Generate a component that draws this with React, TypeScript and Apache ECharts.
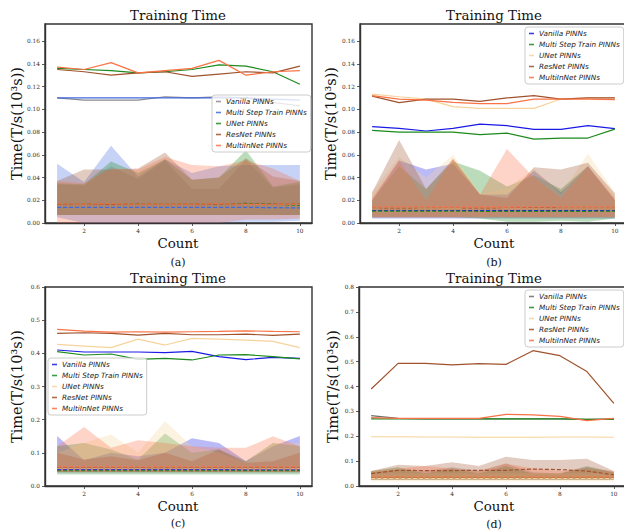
import React, { useEffect, useRef } from 'react';
import * as echarts from 'echarts';

const COUNTS = [1, 2, 3, 4, 5, 6, 7, 8, 9, 10];
const MODELS = ['Vanilla PINNs', 'Multi Step Train PINNs', 'UNet PINNs', 'ResNet PINNs', 'MultiInNet PINNs'];
const X_TICKS = [2, 4, 6, 8, 10];
const Y_TICKS_AB = [0, 0.02, 0.04, 0.06, 0.08, 0.1, 0.12, 0.14, 0.16];
const Y_TICKS_C = [0, 0.1, 0.2, 0.3, 0.4, 0.5, 0.6];
const Y_TICKS_D = [0, 0.1, 0.2, 0.3, 0.4, 0.5, 0.6, 0.7, 0.8];
const TITLE = 'Training Time';
const X_NAME = 'Count';
const Y_NAME = 'Time(T/s(10³s))';
const PANEL_LABELS = ['(a)', '(b)', '(c)', '(d)'];

// ---------- Panel (a) ----------
const A_VAN_MAX = [0.110, 0.108, 0.108, 0.108, 0.111, 0.110, 0.111, 0.110, 0.106, 0.103];
const A_MST_MAX = [0.110, 0.110, 0.110, 0.110, 0.110, 0.110, 0.110, 0.110, 0.109, 0.108];
const A_UNET_MAX = [0.136, 0.135, 0.134, 0.132, 0.133, 0.135, 0.139, 0.138, 0.133, 0.122];
const A_RES_MAX = [0.135, 0.133, 0.130, 0.132, 0.133, 0.129, 0.131, 0.133, 0.132, 0.138];
const A_MIN_MAX = [0.137, 0.135, 0.141, 0.132, 0.134, 0.136, 0.143, 0.130, 0.133, 0.134];
const A_VAN_MEAN = [0.0135, 0.0135, 0.0135, 0.0135, 0.0135, 0.0135, 0.0135, 0.0135, 0.0133, 0.0132];
const A_MST_MEAN = [0.0138, 0.0138, 0.0138, 0.0138, 0.0138, 0.0138, 0.0138, 0.0138, 0.0135, 0.0133];
const A_UNET_MEAN = [0.0165, 0.0165, 0.0168, 0.0166, 0.0165, 0.0166, 0.0170, 0.0172, 0.0168, 0.0155];
const A_RES_MEAN = [0.0165, 0.0165, 0.0163, 0.0165, 0.0165, 0.0163, 0.0165, 0.0166, 0.0165, 0.0170];
const A_MIN_MEAN = [0.0168, 0.0166, 0.0170, 0.0165, 0.0166, 0.0166, 0.0170, 0.0164, 0.0165, 0.0166];
const A_VAN_LO = [0.007, 0.007, 0.007, 0.007, 0.007, 0.007, 0.007, 0.007, 0.007, 0.007];
const A_VAN_HI = [0.034, 0.033, 0.050, 0.039, 0.055, 0.030, 0.030, 0.056, 0.031, 0.034];
const A_MST_LO = [0.005, 0.000, 0.000, 0.000, 0.000, 0.000, 0.000, 0.001, 0.001, 0.002];
const A_MST_HI = [0.052, 0.036, 0.068, 0.041, 0.056, 0.044, 0.050, 0.051, 0.051, 0.051];
const A_UNET_LO = [0.007, 0.007, 0.007, 0.007, 0.007, 0.007, 0.007, 0.007, 0.007, 0.007];
const A_UNET_HI = [0.035, 0.034, 0.054, 0.044, 0.056, 0.038, 0.040, 0.064, 0.032, 0.036];
const A_RES_LO = [0.007, 0.007, 0.007, 0.007, 0.007, 0.007, 0.007, 0.007, 0.007, 0.007];
const A_RES_HI = [0.037, 0.047, 0.047, 0.048, 0.062, 0.038, 0.040, 0.057, 0.041, 0.037];
const A_MIN_LO = [0.000, 0.000, 0.000, 0.000, 0.000, 0.000, 0.000, 0.003, 0.003, 0.004];
const A_MIN_HI = [0.037, 0.035, 0.048, 0.047, 0.058, 0.051, 0.050, 0.055, 0.048, 0.037];

// ---------- Panel (b) ----------
const B_VAN_MAX = [0.0847, 0.0832, 0.0809, 0.0832, 0.0870, 0.0856, 0.0823, 0.0823, 0.0856, 0.0830];
const B_MST_MAX = [0.0815, 0.0800, 0.0800, 0.0800, 0.0777, 0.0790, 0.0738, 0.0747, 0.0747, 0.0826];
const B_UNET_MAX = [0.1134, 0.1110, 0.1090, 0.1023, 0.1008, 0.1008, 0.1008, 0.1090, 0.1100, 0.1100];
const B_RES_MAX = [0.1116, 0.1058, 0.1090, 0.1090, 0.1070, 0.1100, 0.1120, 0.1090, 0.1100, 0.1100];
const B_MIN_MAX = [0.1120, 0.1090, 0.1080, 0.1060, 0.1050, 0.1050, 0.1090, 0.1090, 0.1090, 0.1085];
const B_VAN_MEAN = [0.0110, 0.0110, 0.0110, 0.0110, 0.0110, 0.0110, 0.0109, 0.0109, 0.0109, 0.0108];
const B_MST_MEAN = [0.0104, 0.0104, 0.0104, 0.0104, 0.0103, 0.0103, 0.0103, 0.0103, 0.0103, 0.0104];
const B_UNET_MEAN = [0.0130, 0.0130, 0.0130, 0.0129, 0.0129, 0.0129, 0.0129, 0.0130, 0.0130, 0.0130];
const B_RES_MEAN = [0.0132, 0.0131, 0.0132, 0.0132, 0.0131, 0.0132, 0.0133, 0.0132, 0.0132, 0.0132];
const B_MIN_MEAN = [0.0143, 0.0143, 0.0143, 0.0142, 0.0142, 0.0142, 0.0143, 0.0143, 0.0143, 0.0143];
const B_VAN_LO = [0.004, 0.004, 0.004, 0.004, 0.004, 0.004, 0.004, 0.004, 0.004, 0.004];
const B_VAN_HI = [0.020, 0.055, 0.047, 0.052, 0.025, 0.025, 0.046, 0.027, 0.050, 0.020];
const B_MST_LO = [0.005, 0.005, 0.005, 0.005, 0.004, 0.001, 0.001, 0.002, 0.001, 0.004];
const B_MST_HI = [0.020, 0.050, 0.030, 0.054, 0.046, 0.032, 0.042, 0.030, 0.050, 0.020];
const B_UNET_LO = [0.005, 0.005, 0.005, 0.005, 0.005, 0.005, 0.005, 0.005, 0.005, 0.005];
const B_UNET_HI = [0.027, 0.058, 0.040, 0.060, 0.026, 0.030, 0.048, 0.025, 0.061, 0.027];
const B_RES_LO = [0.005, 0.005, 0.005, 0.005, 0.005, 0.005, 0.005, 0.005, 0.005, 0.005];
const B_RES_HI = [0.027, 0.073, 0.030, 0.056, 0.025, 0.022, 0.049, 0.047, 0.053, 0.026];
const B_MIN_LO = [0.005, 0.005, 0.005, 0.005, 0.005, 0.005, 0.005, 0.005, 0.005, 0.005];
const B_MIN_HI = [0.022, 0.055, 0.020, 0.057, 0.025, 0.065, 0.040, 0.022, 0.050, 0.022];

// ---------- Panel (c) ----------
const C_VAN_MAX = [0.410, 0.404, 0.404, 0.404, 0.402, 0.406, 0.390, 0.381, 0.388, 0.385];
const C_MST_MAX = [0.405, 0.395, 0.398, 0.382, 0.385, 0.380, 0.395, 0.396, 0.390, 0.383];
const C_UNET_MAX = [0.427, 0.422, 0.417, 0.443, 0.425, 0.445, 0.443, 0.440, 0.436, 0.417];
const C_RES_MAX = [0.460, 0.462, 0.460, 0.455, 0.460, 0.456, 0.456, 0.458, 0.454, 0.458];
const C_MIN_MAX = [0.472, 0.467, 0.464, 0.465, 0.464, 0.465, 0.466, 0.468, 0.466, 0.465];
const C_VAN_MEAN = [0.049, 0.049, 0.049, 0.049, 0.049, 0.049, 0.049, 0.048, 0.048, 0.048];
const C_MST_MEAN = [0.046, 0.046, 0.046, 0.046, 0.046, 0.046, 0.046, 0.046, 0.046, 0.046];
const C_UNET_MEAN = [0.054, 0.054, 0.054, 0.054, 0.055, 0.054, 0.054, 0.054, 0.054, 0.054];
const C_RES_MEAN = [0.055, 0.055, 0.055, 0.055, 0.055, 0.055, 0.055, 0.055, 0.055, 0.055];
const C_MIN_MEAN = [0.058, 0.058, 0.058, 0.058, 0.058, 0.058, 0.058, 0.058, 0.058, 0.058];
const C_VAN_LO = [0.040, 0.040, 0.040, 0.040, 0.040, 0.040, 0.040, 0.040, 0.040, 0.040];
const C_VAN_HI = [0.151, 0.078, 0.100, 0.090, 0.100, 0.144, 0.130, 0.075, 0.120, 0.151];
const C_MST_LO = [0.035, 0.035, 0.035, 0.035, 0.035, 0.035, 0.035, 0.035, 0.035, 0.035];
const C_MST_HI = [0.120, 0.130, 0.110, 0.080, 0.158, 0.100, 0.110, 0.075, 0.130, 0.120];
const C_UNET_LO = [0.040, 0.040, 0.040, 0.040, 0.040, 0.040, 0.040, 0.040, 0.040, 0.040];
const C_UNET_HI = [0.100, 0.130, 0.155, 0.100, 0.195, 0.120, 0.100, 0.070, 0.130, 0.130];
const C_RES_LO = [0.042, 0.042, 0.042, 0.042, 0.042, 0.042, 0.042, 0.042, 0.042, 0.042];
const C_RES_HI = [0.100, 0.080, 0.090, 0.078, 0.100, 0.075, 0.110, 0.070, 0.075, 0.100];
const C_MIN_LO = [0.042, 0.042, 0.042, 0.042, 0.042, 0.042, 0.042, 0.042, 0.042, 0.042];
const C_MIN_HI = [0.120, 0.178, 0.115, 0.138, 0.130, 0.120, 0.115, 0.115, 0.150, 0.120];

// ---------- Panel (d) ----------
const D_VAN_MAX = [0.283, 0.272, 0.270, 0.270, 0.270, 0.270, 0.270, 0.270, 0.268, 0.270];
const D_MST_MAX = [0.270, 0.270, 0.270, 0.270, 0.270, 0.270, 0.270, 0.270, 0.268, 0.268];
const D_UNET_MAX = [0.198, 0.198, 0.197, 0.197, 0.196, 0.196, 0.196, 0.197, 0.197, 0.196];
const D_RES_MAX = [0.390, 0.493, 0.493, 0.487, 0.492, 0.489, 0.544, 0.524, 0.460, 0.332];
const D_MIN_MAX = [0.275, 0.272, 0.272, 0.272, 0.272, 0.288, 0.286, 0.280, 0.263, 0.272];
const D_VAN_MEAN = [0.030, 0.030, 0.030, 0.030, 0.030, 0.030, 0.030, 0.030, 0.030, 0.030];
const D_MST_MEAN = [0.033, 0.033, 0.033, 0.033, 0.033, 0.033, 0.033, 0.033, 0.033, 0.033];
const D_UNET_MEAN = [0.030, 0.030, 0.030, 0.030, 0.030, 0.030, 0.030, 0.030, 0.030, 0.030];
const D_RES_MEAN = [0.050, 0.063, 0.062, 0.062, 0.063, 0.063, 0.068, 0.066, 0.060, 0.045];
const D_MIN_MEAN = [0.036, 0.036, 0.036, 0.036, 0.036, 0.036, 0.036, 0.036, 0.036, 0.036];
const D_VAN_LO = [0.025, 0.025, 0.025, 0.025, 0.025, 0.025, 0.025, 0.025, 0.025, 0.025];
const D_VAN_HI = [0.055, 0.065, 0.060, 0.075, 0.060, 0.090, 0.055, 0.050, 0.080, 0.055];
const D_MST_LO = [0.025, 0.025, 0.025, 0.025, 0.025, 0.025, 0.025, 0.025, 0.025, 0.025];
const D_MST_HI = [0.060, 0.075, 0.050, 0.070, 0.050, 0.080, 0.050, 0.050, 0.075, 0.055];
const D_UNET_LO = [0.018, 0.018, 0.018, 0.018, 0.018, 0.018, 0.018, 0.018, 0.018, 0.018];
const D_UNET_HI = [0.050, 0.050, 0.050, 0.050, 0.050, 0.050, 0.050, 0.050, 0.050, 0.050];
const D_RES_LO = [0.030, 0.030, 0.030, 0.030, 0.030, 0.030, 0.030, 0.030, 0.030, 0.030];
const D_RES_HI = [0.060, 0.085, 0.080, 0.095, 0.080, 0.118, 0.105, 0.105, 0.110, 0.060];
const D_MIN_LO = [0.025, 0.025, 0.025, 0.025, 0.025, 0.025, 0.025, 0.025, 0.025, 0.025];
const D_MIN_HI = [0.060, 0.070, 0.080, 0.070, 0.060, 0.090, 0.070, 0.060, 0.070, 0.060];

const GRAY = '#8a8a8a';
const ROYAL = '#4169e1';
const BLUE = '#1a1ae6';
const GREEN = '#1d8a1d';
const WHEAT = '#f6d39c';
const SIENNA = '#a0522d';
const CORAL = '#fa7245';

const PANELS = [
  {
    grid: { left: 45, top: 24, width: 267, height: 199 },
    yMax: 0.175, yTicks: Y_TICKS_AB, dec: 2,
    colors: [GRAY, ROYAL, GREEN, SIENNA, CORAL],
    max: [A_VAN_MAX, A_MST_MAX, A_UNET_MAX, A_RES_MAX, A_MIN_MAX],
    mean: [A_VAN_MEAN, A_MST_MEAN, A_UNET_MEAN, A_RES_MEAN, A_MIN_MEAN],
    lo: [A_VAN_LO, A_MST_LO, A_UNET_LO, A_RES_LO, A_MIN_LO],
    hi: [A_VAN_HI, A_MST_HI, A_UNET_HI, A_RES_HI, A_MIN_HI],
    legend: { left: 212, top: 95 },
    titleY: 15, cx: 178, countY: 243, labelY: 262, yNameX: 17,
  },
  {
    grid: { left: 360, top: 24, width: 267, height: 199 },
    yMax: 0.175, yTicks: Y_TICKS_AB, dec: 2,
    colors: [BLUE, GREEN, WHEAT, SIENNA, CORAL],
    max: [B_VAN_MAX, B_MST_MAX, B_UNET_MAX, B_RES_MAX, B_MIN_MAX],
    mean: [B_VAN_MEAN, B_MST_MEAN, B_UNET_MEAN, B_RES_MEAN, B_MIN_MEAN],
    lo: [B_VAN_LO, B_MST_LO, B_UNET_LO, B_RES_LO, B_MIN_LO],
    hi: [B_VAN_HI, B_MST_HI, B_UNET_HI, B_RES_HI, B_MIN_HI],
    legend: { left: 525, top: 27 },
    titleY: 15, cx: 494, countY: 243, labelY: 262, yNameX: 331,
  },
  {
    grid: { left: 45, top: 287, width: 267, height: 199 },
    yMax: 0.6, yTicks: Y_TICKS_C, dec: 1,
    colors: [BLUE, GREEN, WHEAT, SIENNA, CORAL],
    max: [C_VAN_MAX, C_MST_MAX, C_UNET_MAX, C_RES_MAX, C_MIN_MAX],
    mean: [C_VAN_MEAN, C_MST_MEAN, C_UNET_MEAN, C_RES_MEAN, C_MIN_MEAN],
    lo: [C_VAN_LO, C_MST_LO, C_UNET_LO, C_RES_LO, C_MIN_LO],
    hi: [C_VAN_HI, C_MST_HI, C_UNET_HI, C_RES_HI, C_MIN_HI],
    legend: { left: 48, top: 358 },
    titleY: 278, cx: 178, countY: 506, labelY: 523, yNameX: 17,
  },
  {
    grid: { left: 359, top: 287, width: 267, height: 199 },
    yMax: 0.8, yTicks: Y_TICKS_D, dec: 1,
    colors: ['#6e6e6e', GREEN, WHEAT, SIENNA, CORAL],
    max: [D_VAN_MAX, D_MST_MAX, D_UNET_MAX, D_RES_MAX, D_MIN_MAX],
    mean: [D_VAN_MEAN, D_MST_MEAN, D_UNET_MEAN, D_RES_MEAN, D_MIN_MEAN],
    lo: [D_VAN_LO, D_MST_LO, D_UNET_LO, D_RES_LO, D_MIN_LO],
    hi: [D_VAN_HI, D_MST_HI, D_UNET_HI, D_RES_HI, D_MIN_HI],
    legend: { left: 525, top: 290 },
    titleY: 278, cx: 494, countY: 506, labelY: 524, yNameX: 333,
  },
];

const SERIF = 'DejaVu Serif';

function buildOption() {
  const grid: any[] = [];
  const xAxis: any[] = [];
  const yAxis: any[] = [];
  const series: any[] = [];
  const legend: any[] = [];
  const graphic: any[] = [];

  PANELS.forEach((p, i) => {
    grid.push({
      ...p.grid,
      show: true,
      borderColor: '#333',
      borderWidth: 1.4,
      backgroundColor: 'transparent',
      containLabel: false,
      outerBoundsMode: 'none',
    });
    xAxis.push({
      gridIndex: i,
      type: 'value',
      min: 0.55,
      max: 10.45,
      axisLine: { show: true, lineStyle: { color: '#333', width: 1.4 } },
      axisTick: { show: true, customValues: X_TICKS, length: 3, lineStyle: { color: '#333', width: 0.8 } },
      axisLabel: { show: true, customValues: X_TICKS, fontFamily: SERIF, fontSize: 5.8, color: '#333', margin: 5 },
      splitLine: { show: false },
    });
    yAxis.push({
      gridIndex: i,
      type: 'value',
      min: 0,
      max: p.yMax,
      axisLine: { show: true, lineStyle: { color: '#333', width: 1.4 } },
      axisTick: { show: true, customValues: p.yTicks, length: 3, lineStyle: { color: '#333', width: 0.8 } },
      axisLabel: {
        show: true,
        customValues: p.yTicks,
        fontFamily: SERIF,
        fontSize: 5.8,
        color: '#333',
        margin: 5,
        formatter: (v: number) => v.toFixed(p.dec),
      },
      splitLine: { show: false },
    });

    MODELS.forEach((m, j) => {
      const color = p.colors[j];
      const lo = p.lo[j];
      const hi = p.hi[j];
      series.push({
        type: 'custom',
        name: `band-${i}-${j}`,
        xAxisIndex: i,
        yAxisIndex: i,
        silent: true,
        clip: true,
        z: 1,
        data: COUNTS.map((c, k) => [c, lo[k], hi[k]]),
        encode: { x: 0, y: [1, 2] },
        renderItem: (params: any, api: any) => {
          if (params.dataIndex !== 0) return { type: 'group', children: [] };
          const pts: number[][] = [];
          COUNTS.forEach((c, k) => pts.push(api.coord([c, hi[k]])));
          for (let k = COUNTS.length - 1; k >= 0; k--) pts.push(api.coord([COUNTS[k], lo[k]]));
          return {
            type: 'polygon',
            shape: { points: pts },
            style: { fill: color, opacity: 0.3 },
            silent: true,
          };
        },
      });
    });

    MODELS.forEach((m, j) => {
      const color = p.colors[j];
      series.push({
        type: 'line',
        name: m,
        xAxisIndex: i,
        yAxisIndex: i,
        silent: true,
        symbol: 'none',
        showSymbol: false,
        z: 3,
        data: COUNTS.map((c, k) => [c, p.max[j][k]]),
        lineStyle: { color, width: 1.2 },
        itemStyle: { color },
      });
      series.push({
        type: 'line',
        name: `mean-${i}-${j}`,
        xAxisIndex: i,
        yAxisIndex: i,
        silent: true,
        symbol: 'none',
        showSymbol: false,
        z: 4,
        data: COUNTS.map((c, k) => [c, p.mean[j][k]]),
        lineStyle: { color, width: 1.2, type: [4, 2] },
        itemStyle: { color },
      });
    });

    legend.push({
      show: true,
      orient: 'vertical',
      left: p.legend.left,
      top: p.legend.top,
      padding: [2, 4, 2, 4],
      itemGap: 2,
      itemWidth: 5,
      itemHeight: 1.6,
      icon: 'rect',
      selectedMode: false,
      backgroundColor: 'rgba(255,255,255,0.8)',
      borderColor: '#cccccc',
      borderWidth: 1,
      borderRadius: 3,
      z: 10,
      textStyle: {
        fontFamily: 'DejaVu Sans',
        fontStyle: 'italic',
        fontSize: 7.3,
        lineHeight: 9,
        color: '#222',
      },
      data: MODELS.map((m, j) => ({
        name: m,
        icon: 'rect',
        itemStyle: { color: p.colors[j], borderWidth: 0, opacity: 0.85 },
      })),
    });

    graphic.push({
      type: 'text',
      x: p.cx,
      y: p.titleY,
      silent: true,
      style: { text: TITLE, font: `13.4px "${SERIF}"`, fill: '#111', align: 'center', verticalAlign: 'middle' },
    });
    graphic.push({
      type: 'text',
      x: p.cx,
      y: p.countY,
      silent: true,
      style: { text: X_NAME, font: `13.4px "${SERIF}"`, fill: '#111', align: 'center', verticalAlign: 'middle' },
    });
    graphic.push({
      type: 'text',
      x: p.cx,
      y: p.labelY,
      silent: true,
      style: { text: PANEL_LABELS[i], font: `11px "${SERIF}"`, fill: '#111', align: 'center', verticalAlign: 'middle' },
    });
    graphic.push({
      type: 'text',
      x: p.yNameX,
      y: p.grid.top + p.grid.height / 2,
      rotation: Math.PI / 2,
      silent: true,
      style: { text: Y_NAME, font: `14.5px "${SERIF}"`, fill: '#111', align: 'center', verticalAlign: 'middle' },
    });
  });

  return { animation: false, backgroundColor: '#ffffff', grid, xAxis, yAxis, series, legend, graphic };
}

export default function App() {
  const ref = useRef<HTMLDivElement>(null);
  useEffect(() => {
    if (!ref.current) return;
    const chart = echarts.init(ref.current, null, { renderer: 'svg' });
    chart.setOption(buildOption() as any);
    return () => chart.dispose();
  }, []);
  return (
    <div
      ref={ref}
      style={{ position: 'absolute', left: 0, top: 0, width: 624, height: 531, background: '#fff' }}
    />
  );
}
